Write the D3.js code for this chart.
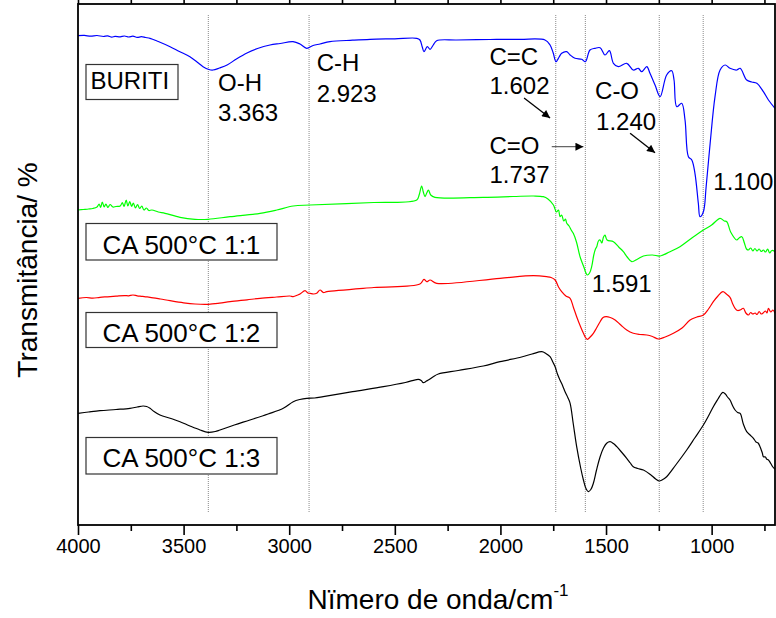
<!DOCTYPE html>
<html><head><meta charset="utf-8">
<script src="https://cdn.jsdelivr.net/npm/d3@7"></script>
<style>
body{margin:0;background:#fff}
svg{display:block}
text{font-family:"Liberation Sans",Arial,Helvetica,sans-serif;fill:#000}
</style>
</head><body>
<svg id="chart" width="776" height="618"></svg>
<script>
// ---------------- DATA ----------------
const xTickValues = [4000, 3500, 3000, 2500, 2000, 1500, 1000];
const xMinorTicks = [3750, 3250, 2750, 2250, 1750, 1250, 750];

// [wavenumber cm-1, transmittance (a.u., offset traces)]
const buriti = [[4000,489.3],[3970,489.6],[3940,488.8],[3910,489.5],[3880,488.5],[3860,489.2],[3840,487.8],[3825,488.6],[3800,488.2],[3780,489],[3760,488],[3740,488.8],[3720,487.6],[3700,488.3],[3680,487.5],[3659,486.7],[3620,483.5],[3564,478.3],[3520,473.5],[3470,468.3],[3430,462],[3408,458.3],[3380,455.5],[3361,455],[3330,457],[3294,460],[3250,466],[3200,472],[3150,476.5],[3091,480],[3043,481.5],[2982,483.3],[2949,481],[2917,476.7],[2887,479.5],[2854,481],[2807,483.3],[2700,484.8],[2617,485.7],[2500,486.2],[2396,486.7],[2381,485],[2370,478],[2362,473.3],[2346,478.3],[2333,475.7],[2318,480],[2302,484.3],[2207,485],[2050,485.5],[1907,485.7],[1789,485],[1765,480],[1750,472],[1737,463.3],[1722,468],[1710,471.7],[1686,473.3],[1670,470],[1647,466.7],[1615,465.7],[1598,463.3],[1576,475],[1552,476.7],[1528,477.3],[1505,470],[1484,474.3],[1465,461.7],[1442,458.3],[1402,461.7],[1371,455],[1347,456.7],[1331,453.3],[1307,458.3],[1292,451.7],[1268,440],[1244,428.3],[1213,450],[1189,454.3],[1178,445],[1165,418.3],[1142,421.7],[1126,405],[1110,368.3],[1094,365],[1079,351.7],[1063,321.7],[1055,308.3],[1039,313.3],[1026,338.3],[1007,381.7],[984,428.3],[960,455],[936,460],[913,456.7],[881,455],[865,456.7],[834,445],[810,443],[786,441.7],[755,433.3],[731,425],[700,416.7]];

const ca11 = [[4000,315],[3975,315.5],[3950,316],[3930,316.5],[3910,318],[3900,321],[3893,317.5],[3885,323],[3876,318],[3868,321],[3858,317.5],[3848,320.5],[3835,318],[3820,318.5],[3800,319],[3790,322.5],[3782,318.5],[3772,325],[3764,319],[3755,323.5],[3746,318.5],[3738,322],[3728,317],[3718,320.5],[3708,316.5],[3698,319],[3688,315],[3676,317],[3665,314.5],[3650,315],[3620,313],[3588,311.7],[3517,307.7],[3446,305.7],[3384,305.7],[3280,308.3],[3138,311.7],[3059,315],[2981,319],[2901,320],[2600,322.5],[2396,325],[2385,330],[2373,339],[2365,333],[2357,328.3],[2349,332],[2341,335],[2330,330],[2310,327.7],[2081,327.7],[1940,328.5],[1844,329],[1797,328.3],[1775,326],[1749,320],[1735,313],[1725,315],[1718,308.3],[1710,310],[1700,304],[1692,306],[1686,301.7],[1675,299],[1665,295],[1655,291.7],[1640,283],[1623,268.3],[1605,258],[1595,252],[1588,250],[1578,252],[1568,258.3],[1558,270],[1550,276],[1544,278.3],[1536,284],[1528,285],[1520,282],[1512,288],[1505,290],[1495,285],[1465,283.3],[1440,278],[1418,273.3],[1400,268],[1378,263.3],[1350,266],[1323,269],[1280,270],[1244,269],[1200,273],[1150,278.3],[1100,286],[1039,295],[1000,300],[960,306.7],[940,304],[928,303.3],[910,293],[881,285],[870,287],[857,288.3],[845,282],[835,276],[826,275],[815,277],[805,274],[795,276.5],[785,274],[775,276],[765,273.5],[755,275],[745,273],[735,276],[725,272],[715,274.5],[700,273.3]];

const ca12 = [[4000,226.7],[3960,227.5],[3930,226.8],[3896,227.7],[3860,228.2],[3820,228.8],[3780,229.4],[3760,229.2],[3740,230],[3720,229.2],[3700,228.7],[3680,228.2],[3659,227.7],[3610,226],[3564,224.3],[3500,222.2],[3446,221],[3384,220.7],[3330,221.8],[3280,223.3],[3200,225.2],[3138,226.7],[3060,228],[2996,229],[2981,228.3],[2960,230],[2949,231],[2925,234.3],[2912,232],[2901,231.7],[2885,231],[2870,231.7],[2854,235],[2838,232.5],[2822,233.3],[2600,237.5],[2381,241],[2362,245.7],[2349,243.3],[2333,245],[2302,241.7],[2002,246.7],[1844,249.3],[1781,248.3],[1760,247.5],[1741,245],[1725,238],[1710,233.3],[1690,229],[1670,226.7],[1655,218],[1639,208.3],[1620,198],[1607,191.7],[1597,187.5],[1588,185.7],[1575,188],[1560,191.7],[1545,197],[1528,203.3],[1514,207.5],[1500,208.3],[1480,207.5],[1457,205],[1430,200],[1402,195],[1371,191.7],[1340,190.5],[1307,190],[1280,188.5],[1252,186],[1220,188],[1181,191.7],[1140,197],[1102,205],[1070,208],[1039,210],[1015,216],[992,223.3],[970,229],[947,233.3],[930,231],[913,227.7],[900,221],[889,216.7],[877,214.5],[865,215],[850,216.7],[838,212],[826,210],[815,212.5],[805,211],[794,212],[785,210.5],[775,213.5],[765,211],[755,212.3],[745,214],[738,212],[731,216.7],[720,213],[710,215],[700,211.7]];

const ca13 = [[4000,111.7],[3950,113],[3896,114.3],[3820,115.5],[3754,116.7],[3720,118],[3692,119],[3675,118.5],[3659,116.7],[3640,113.5],[3612,110],[3560,106.5],[3517,103.3],[3470,99],[3422,95],[3384,92.7],[3350,93.5],[3328,95],[3260,100],[3186,105],[3100,111],[3028,116.7],[2981,123.3],[2950,125.5],[2917,126.7],[2880,127],[2839,128.3],[2700,133.3],[2554,138.3],[2450,142.5],[2389,145.7],[2375,144.5],[2365,142.3],[2350,144],[2341,145],[2320,148],[2294,151],[2200,154.5],[2081,159],[2002,163.3],[1900,168],[1850,171],[1804,173.3],[1785,171.5],[1765,168.3],[1752,163],[1741,158.3],[1730,151],[1718,145],[1705,139],[1694,133.3],[1680,127],[1670,121.7],[1655,101],[1639,78.3],[1620,57],[1607,45],[1595,36.5],[1584,33.3],[1572,35.5],[1560,41.7],[1545,55],[1528,68.3],[1512,77],[1497,81.7],[1481,83.3],[1465,81.5],[1449,78.3],[1425,72.5],[1402,66.7],[1385,62],[1371,58.3],[1350,56.5],[1323,55],[1290,50.5],[1265,46],[1248,44],[1235,45],[1213,48.3],[1170,60],[1118,75],[1080,87],[1039,100],[1015,109],[992,118.3],[970,126],[955,131],[947,132.7],[935,131],[925,128],[913,125],[900,119],[889,115],[877,112.5],[865,111.7],[850,101],[834,93.3],[818,90],[802,86.7],[790,83],[780,82],[771,78.3],[765,75],[760,72],[755,68.3],[745,68],[740,66],[731,65],[720,61.5],[710,58],[700,55.7]];

const seriesNames = ["BURITI", "CA 500°C 1:1", "CA 500°C 1:2", "CA 500°C 1:3"];
const seriesColors = ["#0000ff", "#00ff00", "#ff0000", "#000000"];

const markerLines = [3383, 2906, 1738, 1598, 1248, 1040];

// annotations: [text, wavenumber, T]
const annotations = [
  ["O-H", 3337, 434.3], ["3.363", 3337, 404.3],
  ["C-H", 2870, 454.3], ["2.923", 2870, 423.3],
  ["C=C", 2052, 460], ["1.602", 2052, 431],
  ["C=O", 2052, 371], ["1.737", 2052, 341.7],
  ["C-O", 1552, 425.7], ["1.240", 1547, 395],
  ["1.100", 992, 335], ["1.591", 1568, 233.3]
];
// arrows: [w0, T0, w1, T1, color]
const arrows = [
  [1888, 427, 1765, 407, "#000"],
  [1757, 378.3, 1607, 378.3, "#666"],
  [1386, 391.7, 1268, 372.3, "#000"]
];

// ---------------- CHART ----------------
const svg = d3.select("#chart");
const L = 78, R = 775, T = 4, B = 525;
const x = d3.scaleLinear().domain([4000, 700]).range([L, R]);
const y = d3.scaleLinear().domain([0, 521]).range([B, T]);

svg.append("defs").append("marker")
  .attr("id", "ah").attr("viewBox", "0 0 10 10").attr("refX", 10).attr("refY", 5)
  .attr("markerWidth", 12).attr("markerHeight", 8).attr("markerUnits", "userSpaceOnUse")
  .attr("orient", "auto")
  .append("path").attr("d", "M0,0 L10,5 L0,10 Z").attr("fill", "#000");

// dotted reference lines
svg.append("g").selectAll("line").data(markerLines).join("line")
  .attr("x1", d => x(d)).attr("x2", d => x(d))
  .attr("y1", 15).attr("y2", 512)
  .attr("stroke", "#8a8a8a").attr("stroke-width", 1).attr("stroke-dasharray", "1,1");

// spectra
const line = d3.line().x(d => x(d[0])).y(d => y(d[1])).curve(d3.curveCatmullRom.alpha(0.5));
const allSeries = [buriti, ca11, ca12, ca13];
svg.append("g").selectAll("path").data(allSeries).join("path")
  .attr("d", line).attr("fill", "none")
  .attr("stroke", (d, i) => seriesColors[i]).attr("stroke-width", 1.2);

// axes
function styleAxis(g) {
  g.select(".domain").remove();
  g.selectAll("line").attr("stroke", "#000").attr("stroke-width", 1.6);
}
const axB = svg.append("g").attr("transform", `translate(0,${B})`)
  .call(d3.axisBottom(x).tickValues(xTickValues).tickSize(10).tickPadding(4).tickFormat(d3.format("d")));
styleAxis(axB);
axB.selectAll("text").attr("font-size", 20).attr("font-family", "Liberation Sans, Arial, sans-serif").attr("fill", "#000");
const axBm = svg.append("g").attr("transform", `translate(0,${B})`)
  .call(d3.axisBottom(x).tickValues(xMinorTicks).tickSize(6).tickFormat(""));
styleAxis(axBm);
const axT = svg.append("g").attr("transform", `translate(0,${T})`)
  .call(d3.axisTop(x).tickValues(xTickValues).tickSize(10).tickFormat(""));
styleAxis(axT);
const axTm = svg.append("g").attr("transform", `translate(0,${T})`)
  .call(d3.axisTop(x).tickValues(xMinorTicks).tickSize(6).tickFormat(""));
styleAxis(axTm);

// frame
svg.append("rect").attr("x", L).attr("y", T).attr("width", R - L).attr("height", B - T)
  .attr("fill", "none").attr("stroke", "#000").attr("stroke-width", 1.8);

// annotations
svg.append("g").selectAll("text").data(annotations).join("text")
  .attr("x", d => x(d[1])).attr("y", d => y(d[2]))
  .attr("font-size", 24).text(d => d[0]);

// arrows
svg.append("g").selectAll("line").data(arrows).join("line")
  .attr("x1", d => x(d[0])).attr("y1", d => y(d[1]))
  .attr("x2", d => x(d[2])).attr("y2", d => y(d[3]))
  .attr("stroke", d => d[4]).attr("stroke-width", 1.3)
  .attr("marker-end", "url(#ah)");

// series label boxes
const boxes = [
  {i: 0, x: 86, y: 64.5, w: 92, h: 35, tx: 90.5, ty: 89, fs: 24},
  {i: 1, x: 86, y: 223.5, w: 191, h: 36.5, tx: 102.5, ty: 254, fs: 26},
  {i: 2, x: 86, y: 312.5, w: 191, h: 35, tx: 102.5, ty: 341.5, fs: 26},
  {i: 3, x: 86, y: 437.5, w: 191, h: 36.5, tx: 102.5, ty: 466.5, fs: 26}
];
const bg = svg.append("g");
bg.selectAll("rect").data(boxes).join("rect")
  .attr("x", d => d.x).attr("y", d => d.y).attr("width", d => d.w).attr("height", d => d.h)
  .attr("fill", "#fff").attr("stroke", "#333").attr("stroke-width", 1.2);
bg.selectAll("text").data(boxes).join("text")
  .attr("x", d => d.tx).attr("y", d => d.ty).attr("font-size", d => d.fs)
  .text(d => seriesNames[d.i]);

// axis titles
svg.append("text").attr("transform", "translate(37,270) rotate(-90)")
  .attr("text-anchor", "middle").attr("font-size", 28).text("Transmitância/ %");
const xt = svg.append("text").attr("x", 438).attr("y", 609).attr("text-anchor", "middle").attr("font-size", 28);
xt.append("tspan").text("Nïmero de onda/cm");
xt.append("tspan").attr("font-size", 17).attr("dy", -13).text("-1");
</script>
</body></html>
